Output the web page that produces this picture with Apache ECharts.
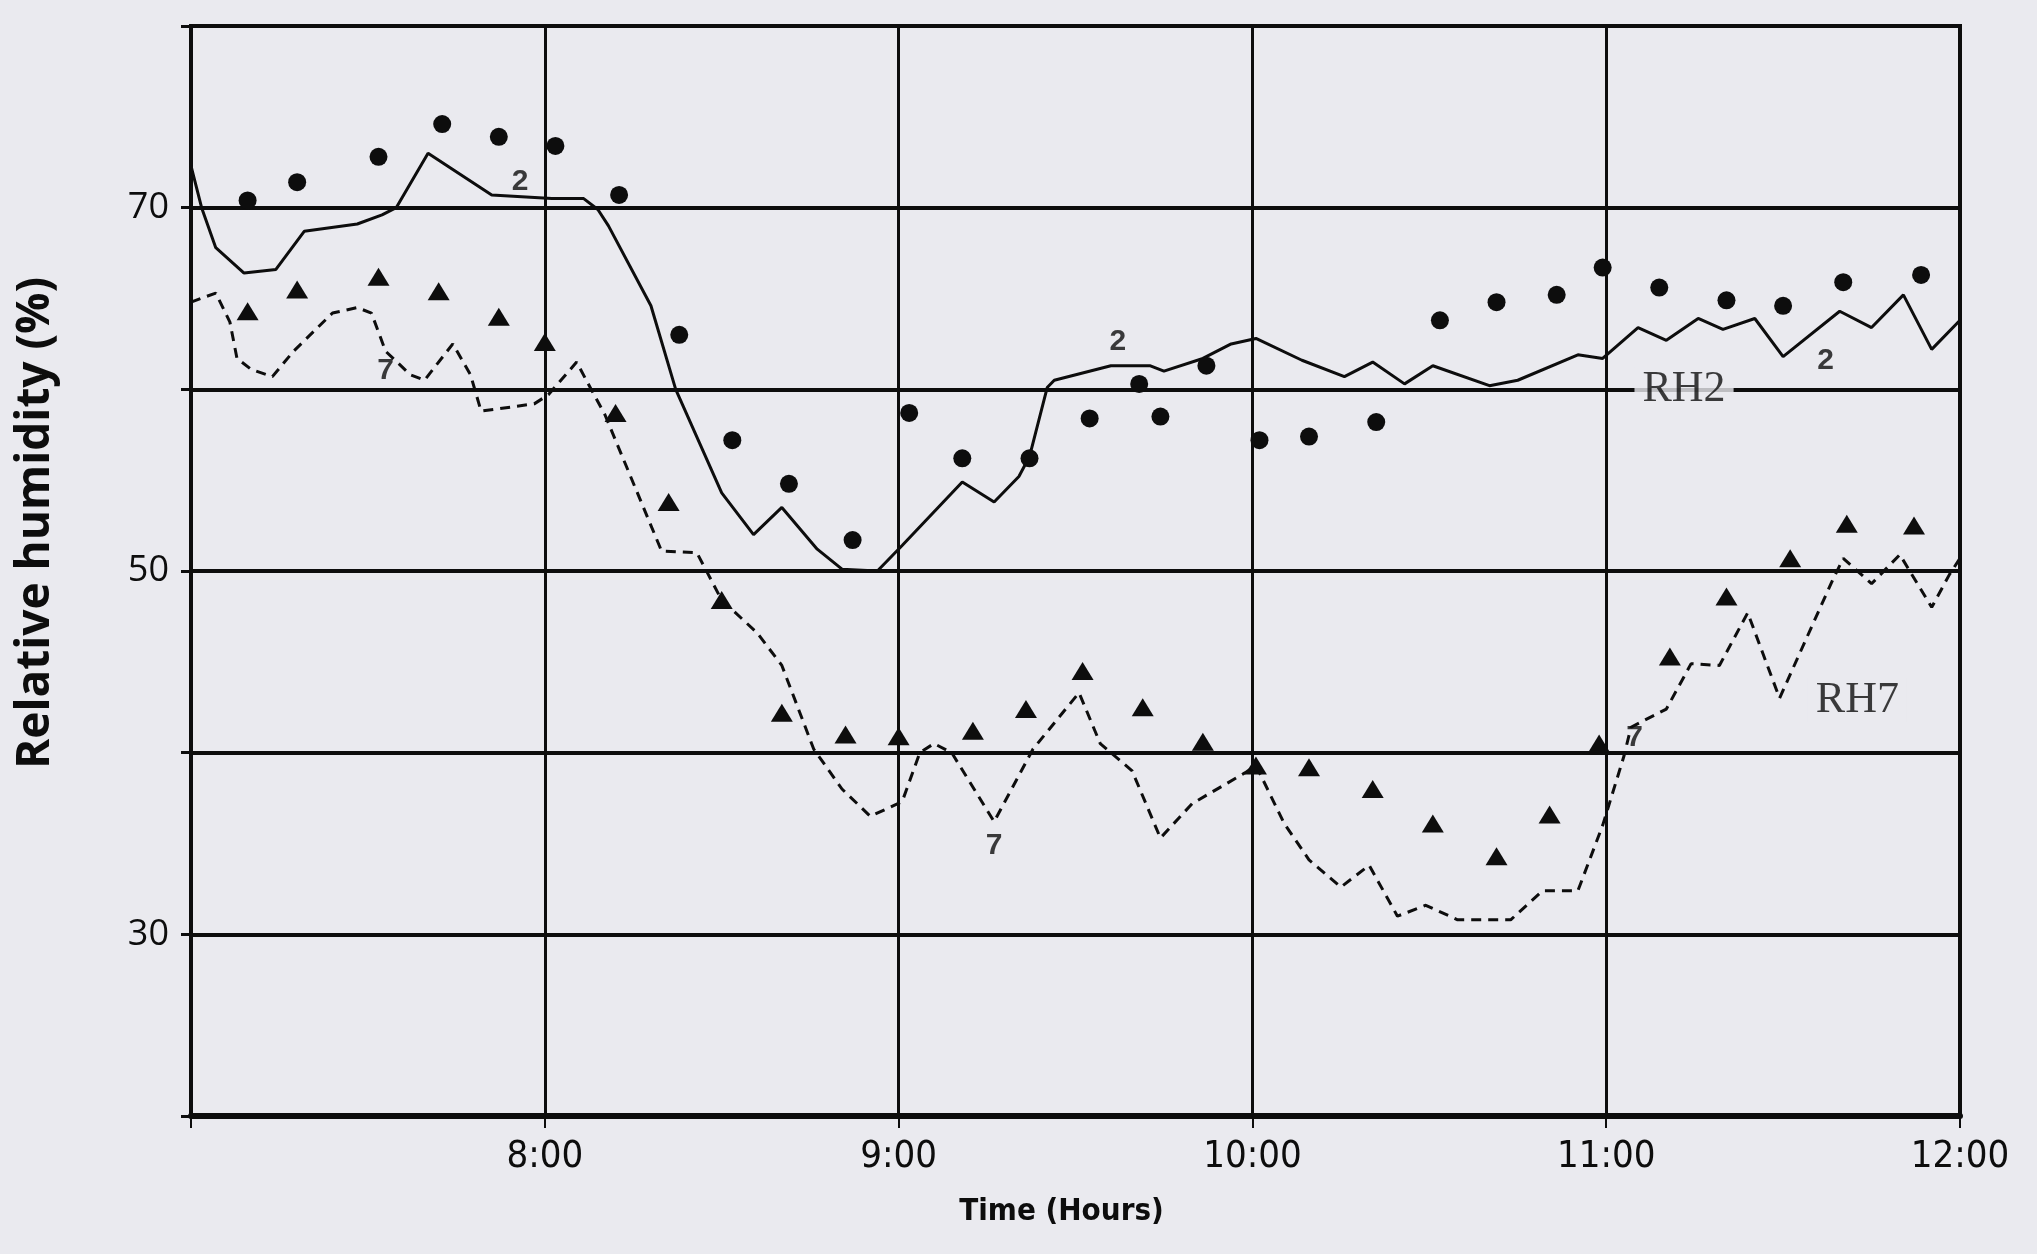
<!DOCTYPE html>
<html>
<head>
<meta charset="utf-8">
<title>Relative humidity</title>
<script src="https://cdn.jsdelivr.net/npm/echarts@6/dist/echarts.min.js"></script>
<style>
  html, body { margin: 0; padding: 0; background: #eaeaef; }
  #chart { width: 2037px; height: 1254px; }
</style>
</head>
<body>
<div id="chart"></div>
<script>
  // time in hours (7.0 = 7:00), relative humidity in %
  const rh2Time = [7.00, 7.03, 7.07, 7.15, 7.24, 7.32, 7.47, 7.54, 7.58, 7.67, 7.85, 8.02, 8.11, 8.15, 8.18, 8.30, 8.37, 8.50, 8.59, 8.67, 8.77, 8.84, 8.94, 9.01, 9.18, 9.27, 9.34, 9.37, 9.42, 9.44, 9.60, 9.71, 9.75, 9.86, 9.94, 10.01, 10.14, 10.26, 10.34, 10.43, 10.51, 10.67, 10.75, 10.92, 10.99, 11.09, 11.17, 11.26, 11.33, 11.42, 11.50, 11.66, 11.75, 11.84, 11.92, 12.00]
  const rh2Value = [72.3, 70.0, 67.8, 66.4, 66.6, 68.7, 69.1, 69.6, 70.0, 73.0, 70.7, 70.5, 70.5, 69.9, 69.0, 64.6, 60.0, 54.3, 52.0, 53.5, 51.2, 50.1, 50.0, 51.4, 54.9, 53.8, 55.2, 56.3, 60.1, 60.5, 61.3, 61.3, 61.0, 61.7, 62.5, 62.8, 61.6, 60.7, 61.5, 60.3, 61.3, 60.2, 60.5, 61.9, 61.7, 63.4, 62.7, 63.9, 63.3, 63.9, 61.8, 64.3, 63.4, 65.2, 62.2, 63.8]

  const rh7Time = [7.00, 7.07, 7.11, 7.13, 7.17, 7.23, 7.29, 7.40, 7.47, 7.51, 7.55, 7.62, 7.66, 7.74, 7.79, 7.82, 7.97, 8.01, 8.09, 8.12, 8.17, 8.33, 8.43, 8.50, 8.60, 8.67, 8.76, 8.84, 8.92, 9.01, 9.06, 9.10, 9.15, 9.27, 9.38, 9.51, 9.57, 9.66, 9.74, 9.83, 9.98, 10.01, 10.09, 10.16, 10.25, 10.33, 10.41, 10.49, 10.58, 10.73, 10.82, 10.92, 10.99, 11.05, 11.07, 11.17, 11.24, 11.32, 11.40, 11.49, 11.64, 11.67, 11.75, 11.83, 11.92, 11.97, 12.00]
  const rh7Value = [64.8, 65.3, 63.7, 61.7, 61.1, 60.7, 62.1, 64.2, 64.5, 64.2, 62.1, 60.8, 60.5, 62.5, 60.8, 58.8, 59.2, 59.7, 61.5, 60.4, 58.6, 51.1, 51.0, 48.4, 46.6, 44.8, 40.2, 38.0, 36.5, 37.3, 40.0, 40.5, 40.0, 36.2, 40.2, 43.3, 40.5, 39.0, 35.3, 37.2, 38.9, 39.3, 36.1, 34.1, 32.6, 33.8, 31.0, 31.6, 30.8, 30.8, 32.4, 32.4, 36.0, 39.8, 41.4, 42.4, 44.9, 44.8, 47.7, 43.0, 49.5, 50.7, 49.3, 50.9, 48.0, 49.8, 50.7]

  // dots beside RH2
  const dotTime = [7.16, 7.30, 7.53, 7.71, 7.87, 8.03, 8.21, 8.38, 8.53, 8.69, 8.87, 9.03, 9.18, 9.37, 9.54, 9.68, 9.74, 9.87, 10.02, 10.16, 10.35, 10.53, 10.69, 10.86, 10.99, 11.15, 11.34, 11.50, 11.67, 11.89]
  const dotValue = [70.4, 71.4, 72.8, 74.6, 73.9, 73.4, 70.7, 63.0, 57.2, 54.8, 51.7, 58.7, 56.2, 56.2, 58.4, 60.3, 58.5, 61.3, 57.2, 57.4, 58.2, 63.8, 64.8, 65.2, 66.7, 65.6, 64.9, 64.6, 65.9, 66.3]

  // triangles beside RH7
  const triTime = [7.16, 7.30, 7.53, 7.70, 7.87, 8.00, 8.20, 8.35, 8.50, 8.67, 8.85, 9.00, 9.21, 9.36, 9.52, 9.69, 9.86, 10.01, 10.16, 10.34, 10.51, 10.69, 10.84, 10.98, 11.18, 11.34, 11.52, 11.68, 11.87]
  const triValue = [64.3, 65.5, 66.2, 65.4, 64.0, 62.6, 58.7, 53.8, 48.4, 42.2, 41.0, 40.9, 41.2, 42.4, 44.5, 42.5, 40.6, 39.3, 39.2, 38.0, 36.1, 34.3, 36.6, 40.5, 45.3, 48.6, 50.7, 52.6, 52.5]

  // curve tags written on the plot
  const tagText = ['2', '2', '2', '7', '7', '7']
  const tagTime = [7.93, 9.62, 11.62, 7.55, 9.27, 11.08]
  const tagValue = [71.4, 62.6, 61.6, 61.0, 34.9, 40.8]
  const nameText = ['RH2', 'RH7']
  const nameTime = [11.22, 11.71]
  const nameValue = [60.0, 42.9]

  const yLabelled = [30, 50, 70]

  const pairs = (xs, ys) => xs.map((x, i) => [x, ys[i]])

  const bg = '#eaeaef'
  const ink = '#0d0d0d'
  const sans = '"Open Sans", Lato, sans-serif'
  const narrow = '"DejaVu Sans Condensed", "Liberation Sans Narrow", sans-serif'

  const chart = echarts.init(document.getElementById('chart'))

  const option = {
    backgroundColor: bg,
    animation: false,
    grid: { left: 191, right: 77, top: 26, bottom: 138, show: true, borderColor: ink, borderWidth: 4, backgroundColor: 'transparent' },
    xAxis: {
      type: 'value',
      min: 7,
      max: 12,
      interval: 1,
      name: 'Time (Hours)',
      nameLocation: 'middle',
      nameGap: 80,
      nameTextStyle: { fontFamily: narrow, fontSize: 31, fontWeight: 'bold', color: ink, padding: [0, 28, 0, 0] },
      axisLine: { show: true, onZero: false, lineStyle: { color: ink, width: 6 } },
      axisTick: { show: true, length: 12, lineStyle: { color: ink, width: 2 } },
      axisLabel: {
        margin: 22,
        fontFamily: narrow,
        fontSize: 38,
        color: ink,
        formatter: (v) => (v === 7 ? '' : v + ':00')
      },
      splitLine: { show: true, lineStyle: { color: ink, width: 3 } }
    },
    yAxis: {
      type: 'value',
      min: 20,
      max: 80,
      interval: 10,
      name: 'Relative humidity (%)',
      nameLocation: 'middle',
      nameRotate: 90,
      nameGap: 132,
      nameTextStyle: { fontFamily: sans, fontSize: 46, fontWeight: 'bold', color: ink, padding: [0, 0, 0, 96] },
      axisLine: { show: true, lineStyle: { color: ink, width: 3 } },
      axisTick: { show: true, length: 10, lineStyle: { color: ink, width: 3 } },
      axisLabel: {
        margin: 22,
        fontFamily: sans,
        fontSize: 36,
        color: ink,
        formatter: (v) => (yLabelled.includes(v) ? String(v) : '')
      },
      splitLine: { show: true, lineStyle: { color: ink, width: 4 } }
    },
    series: [
      {
        name: 'RH2',
        type: 'line',
        data: pairs(rh2Time, rh2Value),
        showSymbol: false,
        lineStyle: { color: ink, width: 3 },
        z: 3
      },
      {
        name: 'RH7',
        type: 'line',
        data: pairs(rh7Time, rh7Value),
        showSymbol: false,
        lineStyle: { color: ink, width: 3, type: [10, 7] },
        z: 3
      },
      {
        name: 'RH2 points',
        type: 'scatter',
        data: pairs(dotTime, dotValue),
        symbol: 'circle',
        symbolSize: 18,
        itemStyle: { color: ink, opacity: 1 },
        z: 4
      },
      {
        name: 'RH7 points',
        type: 'scatter',
        data: pairs(triTime, triValue),
        symbol: 'triangle',
        symbolSize: [22, 18],
        itemStyle: { color: ink, opacity: 1 },
        z: 4
      },
      {
        name: 'tags',
        type: 'scatter',
        data: pairs(tagTime, tagValue).map((v, i) => ({ value: v, name: tagText[i] })),
        symbolSize: 0,
        silent: true,
        z: 5,
        label: {
          show: true,
          position: 'inside',
          formatter: (p) => p.name,
          fontFamily: '"Liberation Sans", Arial, sans-serif',
          fontWeight: 'bold',
          fontSize: 30,
          color: ink
        },
        labelLayout: { hideOverlap: false }
      },
      {
        name: 'names',
        type: 'scatter',
        data: pairs(nameTime, nameValue).map((v, i) => ({ value: v, name: nameText[i] })),
        symbolSize: 0,
        silent: true,
        z: 5,
        label: {
          show: true,
          position: 'inside',
          formatter: (p) => p.name,
          fontFamily: '"Liberation Serif", "DejaVu Serif", serif',
          fontSize: 44,
          color: ink,
          backgroundColor: bg,
          padding: [0, 8]
        },
        labelLayout: { hideOverlap: false }
      }
    ]
  }

  chart.setOption(option)
</script>
</body>
</html>
